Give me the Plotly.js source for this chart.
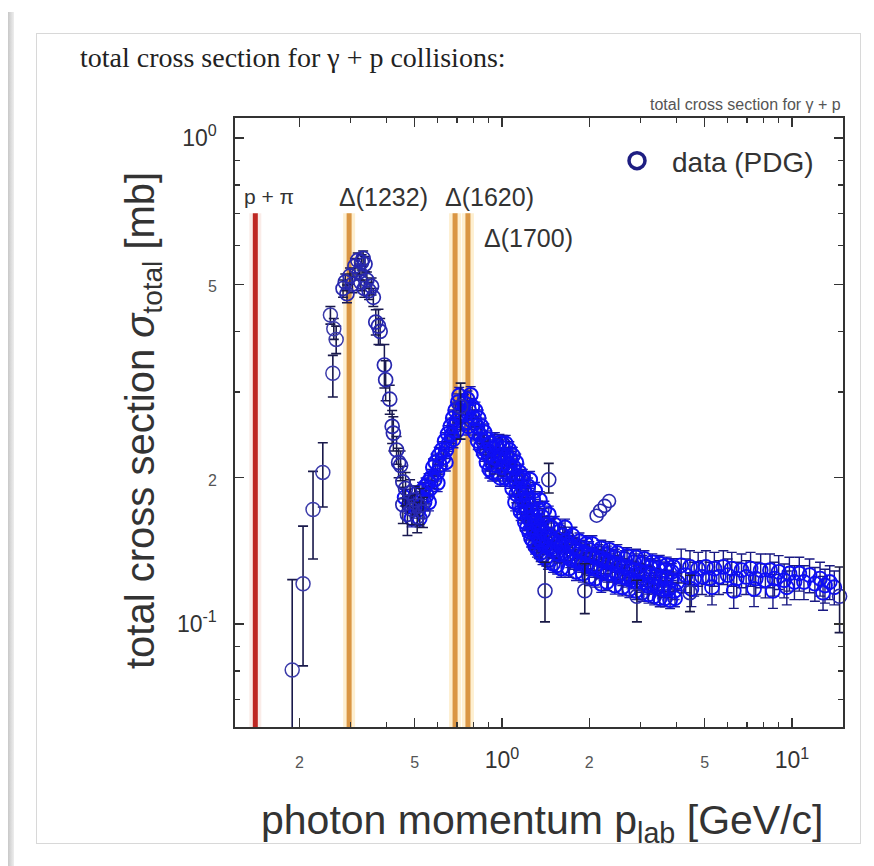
<!DOCTYPE html>
<html>
<head>
<meta charset="utf-8">
<script src="https://cdn.plot.ly/plotly-3.0.1.min.js"></script>
<style>
  html, body { margin:0; padding:0; background:#ffffff; }
  #frame { position:absolute; left:36px; top:33px; width:825px; height:811px; border:1px solid #d8d8d8; box-sizing:border-box; }
  #shade { position:absolute; left:8px; top:12px; width:6px; height:854px; background:linear-gradient(to right,#c8c8c8,#eeeeee); }
  #plot { position:absolute; left:0; top:0; width:874px; height:866px; }
</style>
</head>
<body>
<div id="shade"></div>
<div id="frame"></div>
<div id="plot"></div>
<script>
// ---- data (photon momentum GeV/c, cross section mb) ----
const lowX   = [0.189, 0.206, 0.223, 0.241, 0.261, 0.256, 0.263, 0.268];
const lowY   = [0.0804, 0.121, 0.172, 0.205, 0.328, 0.432, 0.405, 0.385];
const lowErrUp   = [0.043, 0.038, 0.034, 0.031, 0.029, 0.018, 0.020, 0.025];
const lowErrDown = [0.039, 0.039, 0.036, 0.031, 0.035, 0.018, 0.020, 0.025];

const peakX = [0.283,0.288,0.292,0.299,0.305,0.311,0.318,0.322,0.328,0.332,0.337,0.326,0.335,0.342,0.348,0.355,0.360,0.367,0.375,0.380,0.393,0.397,0.410,0.418,0.422,0.433,0.440,0.447,0.455,0.455,0.465,0.472,0.482,0.490,0.500,0.510,0.520,0.534];
const peakY = [0.490,0.505,0.478,0.520,0.500,0.545,0.560,0.530,0.555,0.565,0.550,0.505,0.490,0.510,0.485,0.495,0.470,0.418,0.410,0.400,0.341,0.318,0.290,0.255,0.247,0.228,0.215,0.212,0.196,0.176,0.190,0.168,0.186,0.172,0.180,0.166,0.175,0.170];
const peakErr = [0.02,0.02,0.02,0.02,0.02,0.02,0.02,0.02,0.02,0.02,0.02,0.02,0.02,0.02,0.02,0.02,0.02,0.025,0.034,0.025,0.035,0.030,0.020,0.020,0.020,0.015,0.015,0.015,0.015,0.015,0.015,0.016,0.012,0.012,0.012,0.012,0.015,0.012];

const bandX = [0.462,0.478,0.488,0.495,0.505,0.515,0.525,0.530,0.540,0.545,0.550,0.558,0.565,0.570,0.578,0.585,0.590,0.598,0.605,0.612,0.620,0.628,0.635,0.642,0.650,0.657,0.664,0.670,0.677,0.684,0.690,0.698,0.705,0.712,0.717,
  0.74,0.75,0.76,0.77,0.78,0.79,0.80,0.81,0.82,0.83,0.84,0.85,0.86,0.87,0.88,0.89,0.90,0.91,0.92,0.93,0.94,0.95,0.96,0.97,0.98,0.99,1.00,1.01,1.02,1.03,1.04,1.05,1.06,1.07,1.08,1.09,
  1.10,1.11,1.12,1.13,1.14,1.15,1.16,1.17,1.18,1.19,1.20,1.21,1.22,1.23,1.24,1.25,1.26,1.27,1.28,1.29,1.30,1.31,1.32,1.33,1.34,1.35,1.36,1.37,1.38,1.40,1.42,1.44,1.46,1.48,1.50,1.52,1.54,1.56,1.58,1.60,
  1.12,1.16,1.20,1.24,1.28,1.32,1.18,1.23,1.28,1.33,1.38,1.43,1.48,1.36,1.42,
  1.62,1.64,1.66,1.68,1.70,1.72,1.75,1.78,1.80,1.83,1.86,1.89,1.92,1.95,1.98,2.02,2.05,2.08,2.12,2.16,2.20,2.24,2.28,2.32,2.36,2.40,2.45,2.50,2.55,2.60,2.65,2.70,2.75,2.80,2.86,2.92,2.98,3.04,3.10,3.17,3.24,3.30,3.37,3.44,3.52,3.60,3.68,3.76,3.85,3.94,4.03,
  1.65,1.75,1.85,1.95,2.05,2.20,2.35,2.50,2.70,2.90,3.10,3.30,3.50,3.70,3.90,
  1.70,1.90,2.10,2.30,2.60,2.90,3.20,3.50,3.80];
const bandY = [0.182,0.176,0.165,0.178,0.185,0.172,0.180,0.188,0.178,0.192,0.184,0.196,0.190,0.200,0.210,0.198,0.215,0.205,0.222,0.212,0.228,0.220,0.238,0.228,0.246,0.236,0.255,0.245,0.265,0.255,0.275,0.262,0.286,0.295,0.270,
  0.285,0.270,0.290,0.275,0.296,0.280,0.265,0.275,0.255,0.265,0.245,0.255,0.238,0.248,0.228,0.240,0.222,0.235,0.215,0.230,0.220,0.212,0.232,0.218,0.236,0.222,0.210,0.230,0.218,0.235,0.222,0.212,0.228,0.218,0.205,0.222,
  0.210,0.198,0.215,0.200,0.190,0.205,0.185,0.198,0.180,0.190,0.175,0.185,0.170,0.180,0.165,0.175,0.162,0.170,0.158,0.166,0.155,0.162,0.152,0.160,0.150,0.158,0.148,0.156,0.146,0.154,0.145,0.152,0.143,0.150,0.142,0.148,0.140,0.147,0.139,0.145,
  0.185,0.170,0.162,0.155,0.148,0.143,0.200,0.192,0.180,0.172,0.166,0.160,0.158,0.140,0.137,
  0.152,0.140,0.148,0.138,0.146,0.136,0.144,0.135,0.142,0.134,0.141,0.133,0.140,0.132,0.139,0.131,0.138,0.130,0.137,0.129,0.136,0.128,0.135,0.127,0.134,0.127,0.133,0.126,0.132,0.125,0.131,0.124,0.130,0.123,0.129,0.122,0.128,0.121,0.127,0.120,0.126,0.120,0.125,0.119,0.124,0.118,0.124,0.118,0.123,0.117,0.122,
  0.158,0.152,0.148,0.146,0.146,0.143,0.142,0.140,0.138,0.137,0.136,0.134,0.133,0.132,0.131,
  0.130,0.127,0.124,0.122,0.119,0.117,0.115,0.113,0.112];

const bandX2 = [0.745,0.765,0.785,0.805,0.825,0.845,0.865,0.885,0.905,0.925,0.945,0.965,0.985,1.005,1.025,1.045,1.065,1.085,
  0.52,0.56,0.60,0.64,0.68,0.70,
  1.11,1.15,1.19,1.22,1.26,1.30,1.34,1.38,1.44,1.50,1.55,1.60,1.25,1.30,1.35,1.40,1.45,1.52,1.58,
  1.68,1.78,1.88,2.00,2.15,2.30,2.45,2.65,2.85,3.05,3.25,3.45,3.65,3.85,1.80,2.00,2.20,2.45,2.75,3.05,3.35,3.65,3.95];
const bandY2 = [0.260,0.255,0.262,0.248,0.238,0.232,0.225,0.215,0.208,0.205,0.238,0.205,0.200,0.235,0.200,0.205,0.198,0.190,
  0.165,0.178,0.195,0.215,0.240,0.250,
  0.178,0.175,0.168,0.158,0.150,0.145,0.142,0.138,0.135,0.133,0.132,0.130,0.198,0.188,0.180,0.172,0.168,0.160,0.155,
  0.150,0.145,0.143,0.142,0.140,0.139,0.137,0.136,0.134,0.133,0.131,0.130,0.129,0.128,0.128,0.125,0.121,0.120,0.118,0.116,0.114,0.113,0.113];

const tailX = [4.15,4.30,4.45,4.60,4.75,4.90,5.05,5.20,5.40,5.60,5.80,6.00,6.20,6.45,6.70,6.95,7.20,7.50,7.80,8.10,8.40,8.70,9.00,9.40,9.80,10.2,10.6,11.0,11.5,12.0,12.5,13.0,13.5,14.0,
  4.50,5.30,6.30,7.40,8.60,9.60,12.8];
const tailY = [0.132,0.126,0.131,0.124,0.130,0.125,0.131,0.124,0.130,0.125,0.131,0.126,0.130,0.124,0.129,0.125,0.130,0.124,0.129,0.123,0.129,0.124,0.128,0.123,0.127,0.122,0.127,0.122,0.126,0.121,0.124,0.120,0.122,0.119,
  0.118,0.119,0.117,0.118,0.117,0.119,0.116];

const outX = [1.407, 1.93, 2.92, 4.45, 14.6, 1.45, 0.72];
const outY = [0.117, 0.117, 0.114, 0.116, 0.114, 0.198, 0.280];
const outErrUp   = [0.017, 0.016, 0.009, 0.010, 0.017, 0.016, 0.033];
const outErrDown = [0.016, 0.012, 0.013, 0.010, 0.018, 0.012, 0.040];

const highX = [2.12, 2.18, 2.26, 2.34];
const highY = [0.167, 0.171, 0.175, 0.179];

// resonance markers
const lineNames = ['p + π', 'Δ(1232)', 'Δ(1620)', 'Δ(1700)'];
const lineX     = [0.141, 0.297, 0.689, 0.763];
const lineTop   = 0.70;
const labelX    = [0.127, 0.270, 0.624, 0.851];
const labelY    = [0.756, 0.756, 0.756, 0.623];

const xTickVals = [0.2, 0.5, 1, 2, 5, 10];
const xTickText = ['2', '5', '10<sup>0</sup>', '2', '5', '10<sup>1</sup>'];
const yTickVals = [0.1, 0.2, 0.5, 1];
const yTickText = ['10<sup>-1</sup>', '2', '5', '10<sup>0</sup>'];

// ---- drawing ----
const small = t => '<span style="font-size:16px;fill:#555">' + t + '</span>';
const fmt = arr => arr.map(t => t.indexOf('10') === 0 ? t : small(t));

const navy = 'rgb(40,40,175)';
const blue = 'rgb(15,15,245)';

const traces = [
  { x: bandX2, y: bandY2, type: 'scatter', mode: 'markers', showlegend: false, cliponaxis: false,
    marker: { symbol: 'circle-open', size: 14, color: blue, line: { width: 2 } },
    error_y: { type: 'percent', value: 4, color: 'rgb(25,25,170)', thickness: 1.4, width: 5 } },
  { x: bandX, y: bandY, type: 'scatter', mode: 'markers', showlegend: false, cliponaxis: false,
    marker: { symbol: 'circle-open', size: 14, color: blue, line: { width: 2 } },
    error_y: { type: 'percent', value: 4, color: 'rgb(25,25,160)', thickness: 1.4, width: 5 } },
  { x: tailX, y: tailY, type: 'scatter', mode: 'markers', showlegend: false, cliponaxis: false,
    marker: { symbol: 'circle-open', size: 14, color: blue, line: { width: 1.8 } },
    error_y: { type: 'percent', value: 8, color: 'rgb(25,25,130)', thickness: 1.4, width: 5 } },
  { x: highX, y: highY, type: 'scatter', mode: 'markers', showlegend: false,
    marker: { symbol: 'circle-open', size: 13, color: navy, line: { width: 1.6 } } },
  { x: peakX, y: peakY, type: 'scatter', mode: 'markers', showlegend: false, cliponaxis: false,
    marker: { symbol: 'circle-open', size: 14, color: navy, line: { width: 1.7 } },
    error_y: { type: 'data', array: peakErr, color: 'rgb(25,25,80)', thickness: 1.5, width: 5 } },
  { x: outX, y: outY, type: 'scatter', mode: 'markers', showlegend: false, cliponaxis: false,
    marker: { symbol: 'circle-open', size: 14, color: navy, line: { width: 1.6 } },
    error_y: { type: 'data', array: outErrUp, arrayminus: outErrDown, color: 'rgb(25,25,70)', thickness: 1.6, width: 5 } },
  { x: lowX, y: lowY, type: 'scatter', mode: 'markers', showlegend: false, cliponaxis: false,
    marker: { symbol: 'circle-open', size: 14, color: 'rgb(60,60,170)', line: { width: 1.5 } },
    error_y: { type: 'data', array: lowErrUp, arrayminus: lowErrDown, color: 'rgb(25,25,75)', thickness: 1.6, width: 5 } },
  { x: [null], y: [null], type: 'scatter', mode: 'markers', name: 'data (PDG)', showlegend: true,
    marker: { symbol: 'circle-open', size: 16, color: 'rgb(30,30,130)', line: { width: 3.5 } } }
];

const shapes = [];
lineX.forEach((xv, i) => {
  const core = i === 0 ? 'rgb(190,40,35)' : 'rgb(218,150,68)';
  const glow = i === 0 ? 'rgba(240,200,190,0.35)' : 'rgba(252,220,150,0.45)';
  shapes.push({ type: 'line', xref: 'x', yref: 'y', x0: xv, x1: xv, y0: 0.05, y1: lineTop, layer: 'below', line: { color: glow, width: 12 } });
  shapes.push({ type: 'line', xref: 'x', yref: 'y', x0: xv, x1: xv, y0: 0.05, y1: lineTop, layer: 'below', line: { color: core, width: 5 } });
});

const annotations = lineNames.map((t, i) => ({
  text: t, x: Math.log10(labelX[i]), y: Math.log10(labelY[i]), xref: 'x', yref: 'y',
  xanchor: 'left', yanchor: 'middle', showarrow: false,
  font: { family: 'Liberation Sans, Arial, sans-serif', size: i === 0 ? 21 : 25, color: '#333' }
}));

const W = 608, H = 609, L = 235, T = 118;
const px = v => (v - L) / W;
const py = v => 1 - (v - T) / H;

annotations.push({ text: 'total cross section for γ + p collisions:', xref: 'paper', yref: 'paper',
  x: px(78), y: py(57), xanchor: 'left', yanchor: 'middle', showarrow: false,
  font: { family: 'Liberation Serif, Times New Roman, serif', size: 28, color: '#222' } });
annotations.push({ text: 'total cross section for γ + p', xref: 'paper', yref: 'paper',
  x: px(843), y: py(104), xanchor: 'right', yanchor: 'middle', showarrow: false,
  font: { family: 'Liberation Sans Narrow, Liberation Sans, Arial, sans-serif', size: 16, color: '#555' } });
annotations.push({ text: 'photon momentum p<sub>lab</sub> [GeV/c]', xref: 'paper', yref: 'paper',
  x: px(542), y: py(823), xanchor: 'center', yanchor: 'middle', showarrow: false,
  font: { family: 'Liberation Sans, Arial, sans-serif', size: 41, color: '#333' } });
annotations.push({ text: 'total cross section <i>σ</i><sub>total</sub> [mb]', xref: 'paper', yref: 'paper',
  x: px(143), y: py(421), xanchor: 'center', yanchor: 'middle', textangle: -90, showarrow: false,
  font: { family: 'Liberation Sans, Arial, sans-serif', size: 40, color: '#333' } });

const axisCommon = {
  type: 'log', showline: true, linecolor: '#333', linewidth: 1.6, mirror: 'ticks',
  ticks: 'inside', ticklen: 9, tickwidth: 1.4, tickcolor: '#333', showgrid: false, zeroline: false,
  tickmode: 'array',
  tickfont: { family: 'Liberation Sans, Arial, sans-serif', size: 23, color: '#333' }
};

const layout = {
  width: 874, height: 866,
  margin: { l: L, r: 874 - L - W, t: T, b: 866 - T - H, pad: 0 },
  paper_bgcolor: 'rgba(0,0,0,0)', plot_bgcolor: 'rgba(0,0,0,0)',
  font: { family: 'Liberation Sans, Arial, sans-serif', color: '#333' },
  xaxis: Object.assign({}, axisCommon, {
    range: [Math.log10(0.12), Math.log10(15)],
    tickvals: xTickVals, ticktext: fmt(xTickText), ticklabelstandoff: 12,
    minor: { tickmode: 'array', tickvals: [0.3, 0.4, 0.6, 0.7, 0.8, 0.9, 3, 4, 6, 7, 8, 9], ticks: 'inside', ticklen: 5, tickcolor: '#333', tickwidth: 1.2 }
  }),
  yaxis: Object.assign({}, axisCommon, {
    range: [-1.212, 0.041],
    tickvals: yTickVals, ticktext: fmt(yTickText), ticklabelstandoff: 12,
    minor: { tickmode: 'array', tickvals: [0.07, 0.08, 0.09, 0.3, 0.4, 0.6, 0.7, 0.8, 0.9], ticks: 'inside', ticklen: 5, tickcolor: '#333', tickwidth: 1.2 }
  }),
  legend: { x: px(602), y: py(136), xanchor: 'left', yanchor: 'top', bgcolor: 'rgba(255,255,255,0)',
    itemwidth: 60, font: { family: 'Liberation Sans, Arial, sans-serif', size: 28, color: '#333' } },
  showlegend: true,
  shapes: shapes,
  annotations: annotations
};

Plotly.newPlot('plot', traces, layout, { staticPlot: true, displayModeBar: false });
</script>
</body>
</html>
